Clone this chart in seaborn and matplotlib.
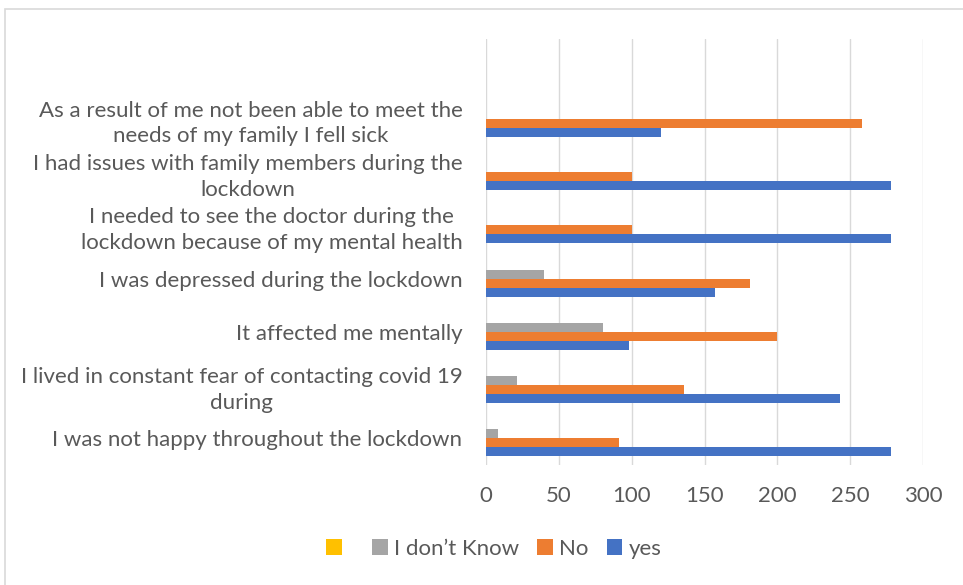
import pandas as pd
import matplotlib.pyplot as plt
import seaborn as sns
from matplotlib.patches import Rectangle

# chart data, top to bottom
questions = [
    "As a result of me not been able to meet the\nneeds of my family I fell sick",
    "I had issues with family members during the\nlockdown",
    "I needed to see the doctor during the\nlockdown because of my mental health",
    "I was depressed during the lockdown",
    "It affected me mentally",
    "I lived in constant fear of contacting covid 19\nduring",
    "I was not happy throughout the lockdown",
]
series = [" ", "I don\u2019t Know", "No", "yes"]
blank = [0, 0, 0, 0, 0, 0, 0]
dont_know = [0, 0, 0, 40, 80, 21, 8]
no = [258, 100, 100, 181, 200, 136, 91]
yes = [120, 278, 278, 157, 98, 243, 278]
colors = ["#FFC000", "#A5A5A5", "#ED7D31", "#4472C4"]
xticks = [0, 50, 100, 150, 200, 250, 300]

rows = []
for name, vals in zip(series, [blank, dont_know, no, yes]):
    for q, v in zip(questions, vals):
        rows.append({"question": q, "answer": name, "count": v})
df = pd.DataFrame(rows)

sns.set_style("white")
plt.rcParams["font.family"] = ["Lato", "DejaVu Sans"]
text_col = "#595959"

fig = plt.figure(figsize=(9.63, 5.85), dpi=100)
ax = fig.add_axes([0.5047, 0.2051, 0.4538, 0.7282])

sns.barplot(data=df, y="question", x="count", hue="answer", order=questions,
            hue_order=series, palette=colors, orient="h", width=0.675,
            linewidth=0, saturation=1, ax=ax)

ax.set_xlim(0, 300)
ax.set_xticks(xticks)
ax.set_ylim(len(questions) - 0.5, -1.5)
ax.set_xlabel("")
ax.set_ylabel("")
ax.grid(axis="x", color="#D9D9D9", linewidth=1)
ax.set_axisbelow(True)
for s in ax.spines.values():
    s.set_visible(False)
ax.tick_params(axis="both", length=0, labelsize=16, colors=text_col)
ax.tick_params(axis="x", pad=15)
ax.tick_params(axis="y", pad=17)
for lbl in ax.get_yticklabels():
    lbl.set_multialignment("center")
    lbl.set_linespacing(1.35)

handles, labels = ax.get_legend_handles_labels()
ax.get_legend().remove()
fig.legend(handles, labels, loc="center", bbox_to_anchor=(0.513, 0.062),
           ncol=4, frameon=False, fontsize=16, labelcolor=text_col,
           handlelength=0.7, handleheight=0.7, handletextpad=0.3,
           columnspacing=0.8)

fig.patches.append(Rectangle((5 / 963, -0.1), 1.0, 0.1 + (585 - 9) / 585,
                             transform=fig.transFigure, fill=False,
                             edgecolor="#D9D9D9", linewidth=1.2))

fig.savefig("out.png", dpi=100)
